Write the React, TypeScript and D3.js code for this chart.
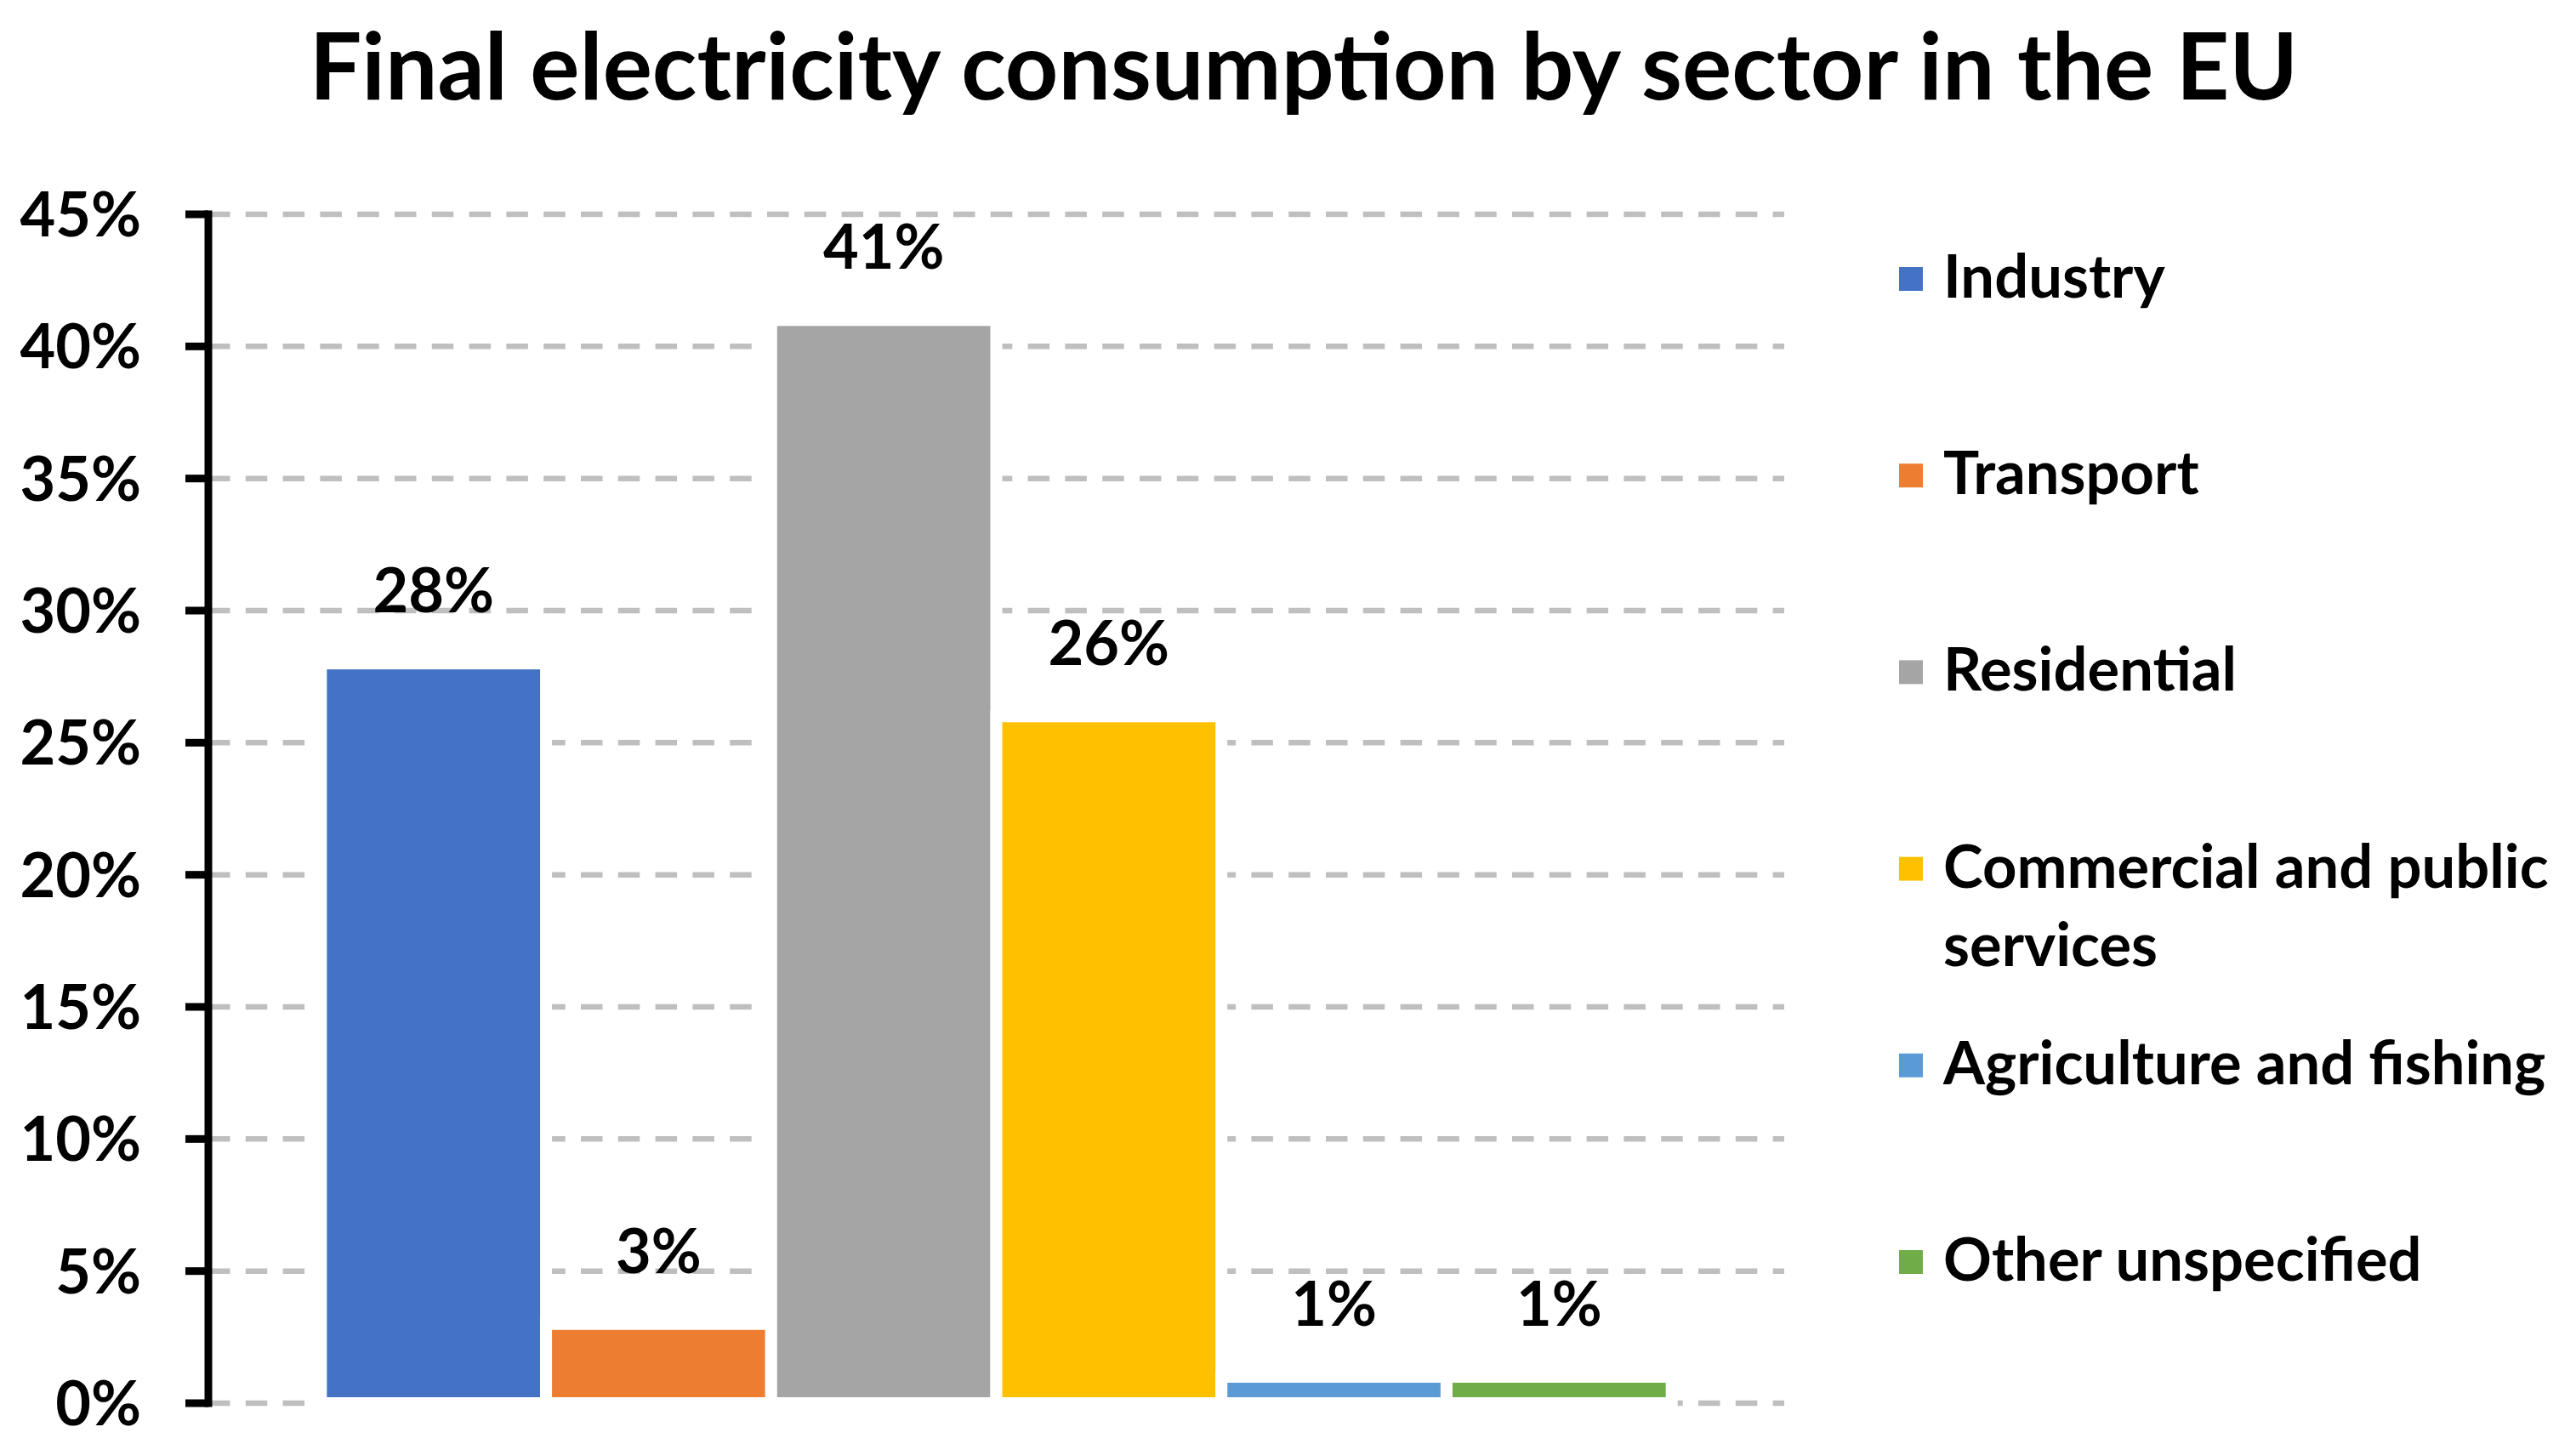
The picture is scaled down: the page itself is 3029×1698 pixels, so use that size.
import React from 'react';
import * as d3 from 'd3';

const titleText = 'Final electricity consumption by sector in the EU';
const sectors = [
  'Industry',
  'Transport',
  'Residential',
  'Commercial and public services',
  'Agriculture and fishing',
  'Other unspecified',
];
const legendLines = [
  ['Industry'],
  ['Transport'],
  ['Residential'],
  ['Commercial and public', 'services'],
  ['Agriculture and fishing'],
  ['Other unspecified'],
];
const shares = [0.28, 0.03, 0.41, 0.26, 0.01, 0.01];
const colors = ['#4472C4', '#ED7D31', '#A5A5A5', '#FFC000', '#5B9BD5', '#70AD47'];
const yTicks = [0, 0.05, 0.1, 0.15, 0.2, 0.25, 0.3, 0.35, 0.4, 0.45];

const W = 3029;
const H = 1698;
const FONT = "Lato, 'Open Sans', 'DejaVu Sans', sans-serif";

export default function App() {
  const plotLeft = 245;
  const plotRight = 2098;
  const y = d3.scaleLinear().domain([0, 0.45]).range([1650, 252]);
  const x = d3
    .scaleBand<string>()
    .domain(sectors)
    .range([plotLeft, plotRight])
    .paddingInner(0)
    .paddingOuter(0.5);
  const pct = d3.format('.0%');

  const legendTop = 328;
  const legendStep = 231.2;

  return (
    <svg
      width={W}
      height={H}
      viewBox={`0 0 ${W} ${H}`}
      style={{ position: 'absolute', left: 0, top: 0, display: 'block', background: '#fff' }}
      fontFamily={FONT}
      fontWeight={700}
    >
      <rect x={0} y={0} width={W} height={H} fill="#fff" />
      <text x={1533} y={117} textAnchor="middle" fontSize={109} fill="#000">
        {titleText}
      </text>

      {/* gridlines */}
      {yTicks.map((t) => (
        <line
          key={'g' + t}
          x1={plotLeft}
          x2={plotRight}
          y1={y(t)}
          y2={y(t)}
          stroke="#BFBFBF"
          strokeWidth={6.5}
          strokeDasharray="25.5 18.3"
        />
      ))}

      {/* bars */}
      {sectors.map((s, i) => (
        <rect
          key={'b' + s}
          x={x(s)}
          y={y(shares[i])}
          width={x.bandwidth()}
          height={y(0) - y(shares[i])}
          fill={colors[i]}
          stroke="#fff"
          strokeWidth={14}
        />
      ))}

      {/* value labels */}
      {sectors.map((s, i) => (
        <text
          key={'v' + s}
          x={(x(s) as number) + x.bandwidth() / 2}
          y={y(shares[i]) - 60}
          textAnchor="middle"
          fontSize={72}
          fill="#000"
        >
          {pct(shares[i])}
        </text>
      ))}

      {/* y axis */}
      <line x1={plotLeft} x2={plotLeft} y1={y(0.45) - 4.5} y2={y(0) + 4.5} stroke="#000" strokeWidth={9} />
      {yTicks.map((t) => (
        <g key={'t' + t}>
          <line x1={218} x2={plotLeft} y1={y(t)} y2={y(t)} stroke="#000" strokeWidth={9} />
          <text x={166} y={y(t) + 26} textAnchor="end" fontSize={72} fill="#000">
            {pct(t)}
          </text>
        </g>
      ))}

      {/* legend */}
      {legendLines.map((lines, i) => {
        const cy = legendTop + i * legendStep;
        return (
          <g key={'l' + i}>
            <rect x={2233} y={cy - 14} width={28} height={28} fill={colors[i]} />
            {lines.map((ln, j) => (
              <text key={j} x={2285} y={cy + 22 + j * 92} fontSize={70.5} fill="#000">
                {ln}
              </text>
            ))}
          </g>
        );
      })}
    </svg>
  );
}
